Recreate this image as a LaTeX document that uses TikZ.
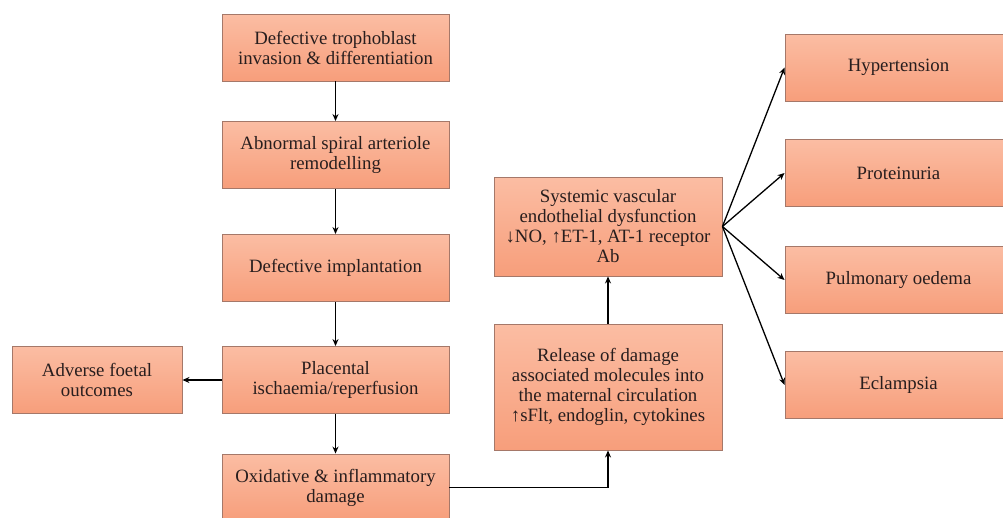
\documentclass[tikz,border=0pt]{standalone}
\usepackage{fontspec}
\setmainfont{Liberation Serif}
\usetikzlibrary{arrows.meta}
\definecolor{boxtop}{RGB}{251,189,163}
\definecolor{boxbot}{RGB}{247,158,123}
\definecolor{boxborder}{RGB}{165,120,105}
\definecolor{txt}{RGB}{40,30,30}
\tikzset{
  box/.style={draw=boxborder, line width=0.9pt, top color=boxtop, bottom color=boxbot,
    align=center, inner sep=2pt, minimum width=227pt, minimum height=67pt,
    font=\fontsize{18.8}{20}\selectfont, text=txt},
  conn/.style={line width=1.3pt, -{Stealth[length=7pt,width=6pt]}}
}
\begin{document}
\begin{tikzpicture}[x=1pt,y=-1pt]
\useasboundingbox (0,0) rectangle (1003,517);
\clip (0,0) rectangle (1003,517);
\node[box] (b1) at (335.5,47.5) {Defective trophoblast\\invasion \& differentiation};
\node[box] (b2) at (335.5,155) {Abnormal spiral arteriole\\remodelling};
\node[box] (b3) at (335.5,268) {Defective implantation};
\node[box] (b4) at (335.5,380) {Placental\\ischaemia/reperfusion};
\node[box] (b5) at (335.5,487.5) {Oxidative \& inflammatory\\damage};
\node[box, minimum width=170pt] (adv) at (97,380) {Adverse foetal\\outcomes};
\node[box, minimum width=228pt, minimum height=99pt] (sys) at (608,226.5)
  {Systemic vascular\\endothelial dysfunction\\↓NO, ↑ET-1, AT-1 receptor\\Ab};
\node[box, minimum width=228pt, minimum height=126pt] (rel) at (608,387)
  {Release of damage\\associated molecules into\\the maternal circulation\\↑sFlt, endoglin, cytokines};
\node[box] (hyp) at (898.5,67.5) {Hypertension};
\node[box] (pro) at (898.5,173) {Proteinuria};
\node[box] (pul) at (898.5,280) {Pulmonary oedema};
\node[box] (ecl) at (898.5,385) {Eclampsia};
\draw[conn] (b1) -- (b2);
\draw[conn] (b2) -- (b3);
\draw[conn] (b3) -- (b4);
\draw[conn] (b4) -- (b5);
\draw[conn] (b4) -- (adv);
\draw[conn] (b5.east) -| (rel.south);
\draw[conn] (rel) -- (sys);
\draw[conn] (sys.east) -- (hyp.west);
\draw[conn] (sys.east) -- (pro.west);
\draw[conn] (sys.east) -- (pul.west);
\draw[conn] (sys.east) -- (ecl.west);
\end{tikzpicture}
\end{document}
